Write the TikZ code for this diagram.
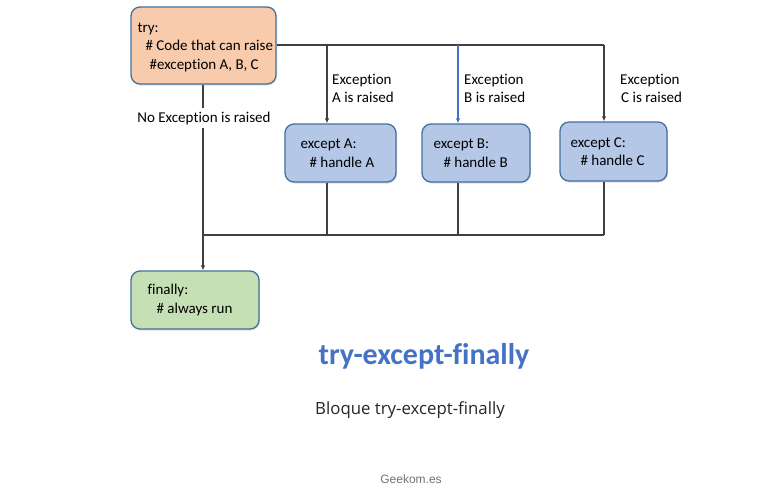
\documentclass[tikz,border=0pt]{standalone}
\usepackage{fontspec}
\setmainfont{Carlito}[Ligatures=NoCommon]
\newfontfamily\subfont{Open Sans}
\newfontfamily\footfont{Liberation Sans}
\usetikzlibrary{arrows.meta,shadows}
\definecolor{bordercol}{HTML}{41719C}
\definecolor{tryfill}{HTML}{F8CBAD}
\definecolor{excfill}{HTML}{B4C7E7}
\definecolor{finfill}{HTML}{C5E0B4}
\definecolor{linecol}{HTML}{404040}
\definecolor{bluecol}{HTML}{4472C4}
\begin{document}
\begin{tikzpicture}[x=1pt,y=-1pt,
  box/.style={draw=bordercol,line width=1.3pt,rounded corners=9pt,
    drop shadow={shadow xshift=1pt,shadow yshift=-1.5pt,opacity=0.25},inner sep=0pt},
  txt/.style={font=\fontsize{15}{18.5}\selectfont,align=left,inner sep=0pt,anchor=west,text=black},
  lbl/.style={font=\fontsize{15}{18}\selectfont,align=left,inner sep=0pt,text=black},
  conn/.style={draw=linecol,line width=1.2pt},
  arr/.style={conn,-{Latex[length=5pt,width=4.5pt]}}]
\useasboundingbox[fill=white] (0,0) rectangle (764,491);

% boxes
\node[box,fill=tryfill,minimum width=145pt,minimum height=77pt] (try) at (203.5,45.5) {};
\node[txt] (trytxt) at ([xshift=7pt,yshift=-1.5pt]try.west) {try:\\\hspace{8pt}\# Code that can raise\\\hspace{12pt}\#exception A, B, C};

\node[box,fill=excfill,minimum width=111pt,minimum height=58pt] (exA) at (340.5,153) {};
\node[txt] (exAtxt) at ([xshift=16pt]exA.west) {except A:\\\hspace{9pt}\# handle A};

\node[box,fill=excfill,minimum width=108pt,minimum height=58pt] (exB) at (476,153) {};
\node[txt] (exBtxt) at ([xshift=12pt]exB.west) {except B:\\\hspace{10pt}\# handle B};

\node[box,fill=excfill,minimum width=107pt,minimum height=59pt] (exC) at (613.5,151.5) {};
\node[txt] (exCtxt) at ([xshift=11pt]exC.west) {except C:\\\hspace{10pt}\# handle C};

\node[box,fill=finfill,minimum width=128pt,minimum height=58pt] (fin) at (195,300) {};
\node[txt] (fintxt) at ([xshift=17pt]fin.west) {finally:\\\hspace{9pt}\# always run};

% coordinates
\coordinate (tr) at (276,45);
\coordinate (jA) at (327,45);
\coordinate (jB) at (458,45);
\coordinate (jC) at (604,45);
\coordinate (bL) at (203,235);
\coordinate (bA) at (327,235);
\coordinate (bB) at (458,235);
\coordinate (bC) at (604,235);

% labels
\node[lbl,anchor=west] (lA) at (332,88) {Exception\\A is raised};
\node[lbl,anchor=west] (lB) at (464,88) {Exception\\B is raised};
\node[lbl,anchor=west] (lC) at (620,88) {Exception\\\hspace{1pt}C is raised};
\node[lbl,fill=white,inner ysep=3pt,inner xsep=1pt] (lN) at (204,118) {No Exception is raised};

% connectors
\draw[conn] (try.east |- tr) -- (jC);
\draw[arr] (jA) -- (exA.north -| jA);
\draw[conn,draw=bluecol,-{Latex[length=5pt,width=4.5pt]}] (jB) -- (exB.north -| jB);
\draw[arr] (jC) -- (exC.north -| jC);
\draw[conn] (try.south -| bL) -- (lN.north -| bL);
\draw[arr] (lN.south -| bL) -- (fin.north -| bL);
\draw[conn] (bL) -- (bC);
\draw[conn] (exA.south -| bA) -- (bA);
\draw[conn] (exB.south -| bB) -- (bB);
\draw[conn] (exC.south -| bC) -- (bC);

% titles
\node[font=\fontsize{30}{34}\bfseries\selectfont,text=bluecol,inner sep=0pt] (title) at (424,356) {try-except-finally};
\node[font=\subfont\fontsize{16.8}{20}\selectfont,text=black!85,inner sep=0pt] (sub) at (410,410) {Bloque try-except-finally};
\node[font=\footfont\fontsize{12}{14}\selectfont,text=black!55,inner sep=0pt] (foot) at (411,479) {Geekom.es};
\end{tikzpicture}
\end{document}
